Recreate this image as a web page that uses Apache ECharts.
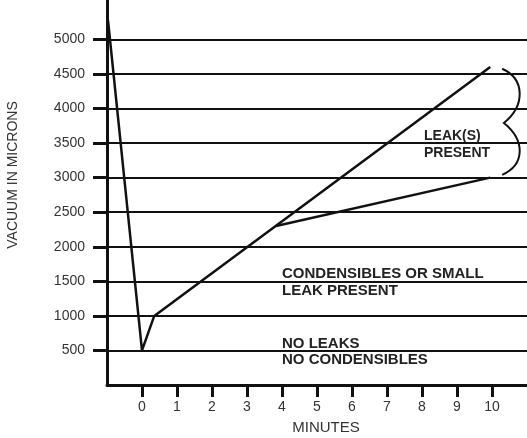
<!DOCTYPE html>
<html>
<head>
<meta charset="utf-8">
<script src="https://cdn.jsdelivr.net/npm/echarts@6/dist/echarts.min.js"></script>
<style>
  html, body { margin: 0; padding: 0; background: #fff; }
  #chart { width: 527px; height: 438px; }
</style>
</head>
<body>
<div id="chart"></div>
<script>
// evacuation curve (minutes, microns)
const pumpMinutes = [-0.97, 0, 0.35, 9.95];
const pumpMicrons = [5270, 500, 1000, 4600];
// lower branch of the leak band
const leakMinutes = [3.83, 9.95];
const leakMicrons = [2300, 3000];
// brace next to the leak band: x start, x bulge, y top, y middle, y bottom
const braceMinutes = [10.29, 10.95];
const braceMicrons = [4575, 3790, 3040];

const yTicks = [500, 1000, 1500, 2000, 2500, 3000, 3500, 4000, 4500, 5000];
const xTicks = [0, 1, 2, 3, 4, 5, 6, 7, 8, 9, 10];

const font = "'Liberation Sans', Arial, sans-serif";
const ink = "#111";

let myChart = echarts.init(document.getElementById("chart"));

function renderBrace(params, api) {
  let x0 = braceMinutes[0], xb = braceMinutes[1];
  let yt = braceMicrons[0], ym = braceMicrons[1], yb = braceMicrons[2];
  let p = v => api.coord(v);
  let a = p([x0, yt]), c1 = p([xb, yt - 150]), c2 = p([xb, ym + 250]), m = p([x0 + 0.05, ym]);
  let c3 = p([xb, ym - 250]), c4 = p([xb, yb + 150]), b = p([x0, yb]);
  let d = "M" + a + " C" + c1 + " " + c2 + " " + m + " C" + c3 + " " + c4 + " " + b;
  return {
    type: "path",
    shape: { pathData: d },
    style: { fill: "none", stroke: ink, lineWidth: 2 }
  };
}

let option = {
  animation: false,
  grid: { left: 107, right: 0, top: 0, bottom: 53 },
  xAxis: {
    type: "value",
    min: -1,
    max: 11,
    interval: 1,
    axisLine: { show: true, onZero: false, lineStyle: { color: ink, width: 3 } },
    axisTick: { show: true, length: 12, customValues: xTicks, lineStyle: { color: ink, width: 3 } },
    axisLabel: { customValues: xTicks, margin: 15, color: "#333", fontSize: 14, fontFamily: font },
    splitLine: { show: false }
  },
  yAxis: {
    type: "value",
    min: 0,
    max: 5570,
    axisLine: { show: true, onZero: false, lineStyle: { color: ink, width: 3 } },
    axisTick: { show: true, length: 14, customValues: yTicks, lineStyle: { color: ink, width: 3 } },
    axisLabel: { customValues: yTicks, margin: 22, color: "#333", fontSize: 14, fontFamily: font, formatter: v => String(v) },
    splitLine: { show: true, customValues: yTicks, lineStyle: { color: ink, width: 2 } }
  },
  series: [
    {
      type: "line",
      data: pumpMinutes.map((m, i) => [m, pumpMicrons[i]]),
      symbol: "none",
      lineStyle: { color: ink, width: 2.5 }
    },
    {
      type: "line",
      data: leakMinutes.map((m, i) => [m, leakMicrons[i]]),
      symbol: "none",
      lineStyle: { color: ink, width: 2.5 }
    },
    {
      type: "custom",
      renderItem: renderBrace,
      data: [[braceMinutes[0], braceMicrons[1]]],
      clip: false
    }
  ],
  graphic: [
    {
      type: "text", x: 13, y: 175, rotation: Math.PI / 2,
      style: { text: "VACUUM IN MICRONS", fill: "#333", font: "14px " + font, textAlign: "center", textVerticalAlign: "middle" }
    },
    { type: "text", x: 326, y: 428, style: { text: "MINUTES", fill: "#333", font: "15px " + font, textAlign: "center", textVerticalAlign: "middle" } },
    { type: "text", x: 424, y: 136, style: { text: "LEAK(S)", fill: "#222", font: "bold 14px " + font, textVerticalAlign: "middle" } },
    { type: "text", x: 424, y: 153, style: { text: "PRESENT", fill: "#222", font: "bold 14px " + font, textVerticalAlign: "middle" } },
    { type: "text", x: 282, y: 274, style: { text: "CONDENSIBLES OR SMALL", fill: "#222", font: "bold 15px " + font, textVerticalAlign: "middle" } },
    { type: "text", x: 282, y: 291, style: { text: "LEAK PRESENT", fill: "#222", font: "bold 15px " + font, textVerticalAlign: "middle" } },
    { type: "text", x: 282, y: 344, style: { text: "NO LEAKS", fill: "#222", font: "bold 15px " + font, textVerticalAlign: "middle" } },
    { type: "text", x: 282, y: 360, style: { text: "NO CONDENSIBLES", fill: "#222", font: "bold 15px " + font, textVerticalAlign: "middle" } }
  ]
};
myChart.setOption(option);
</script>
</body>
</html>
